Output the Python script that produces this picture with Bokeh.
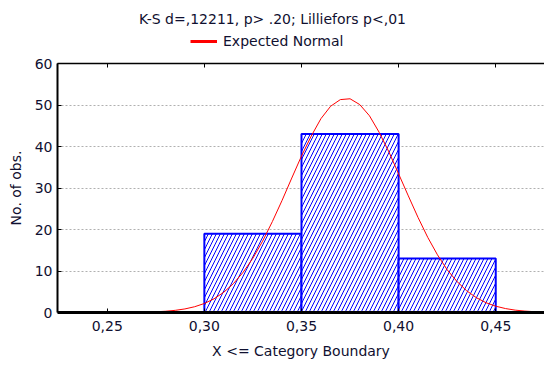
from bokeh.plotting import figure
from bokeh.layouts import column
from bokeh.models import FixedTicker, LinearAxis, Range1d, Legend, LegendItem, Label
from bokeh.embed import file_html
from bokeh.resources import INLINE

# Histogram bins (upper boundaries) and counts
bin_left = [0.30, 0.35, 0.40]
bin_right = [0.35, 0.40, 0.45]
counts = [19, 43, 13]

# Expected normal curve
curve_x = [0.275, 0.28, 0.285, 0.29, 0.295, 0.30, 0.305, 0.31, 0.315, 0.32, 0.325,
           0.33, 0.335, 0.34, 0.345, 0.35, 0.355, 0.36, 0.365, 0.37, 0.375, 0.38,
           0.385, 0.39, 0.395, 0.40, 0.405, 0.41, 0.415, 0.42, 0.425, 0.43, 0.435,
           0.44, 0.445, 0.45, 0.455, 0.46, 0.465, 0.47, 0.475]
curve_y = [0.17, 0.30, 0.52, 0.86, 1.39, 2.17, 3.30, 4.88, 6.98, 9.71, 13.1,
           17.2, 21.9, 27.0, 32.4, 37.7, 42.5, 46.7, 49.7, 51.3, 51.5, 50.1,
           47.4, 43.4, 38.7, 33.4, 28.1, 22.9, 18.1, 13.9, 10.3, 7.5, 5.25,
           3.58, 2.36, 1.52, 0.95, 0.57, 0.34, 0.19, 0.11]

x_ticks = [0.25, 0.30, 0.35, 0.40, 0.45]
x_tick_labels = ["0,25", "0,30", "0,35", "0,40", "0,45"]
y_ticks = [0, 10, 20, 30, 40, 50, 60]

title_text = "K-S d=,12211, p> .20; Lilliefors p<,01"
legend_text = "Expected Normal"

FONT = "DejaVu Sans"
TXT = "#101030"
HEAD_H = 52
LEFT = 57

# ---- header with title and legend (frame starts at x=LEFT) ----
head = figure(width=544, height=HEAD_H, output_backend="svg", toolbar_location=None,
              x_range=Range1d(0, 1), y_range=Range1d(1000, 1001),
              x_axis_type=None, y_axis_type=None,
              min_border_left=LEFT, min_border_right=0, min_border_top=0, min_border_bottom=0,
              background_fill_color="white", border_fill_color="white")
head.grid.visible = False
head.outline_line_color = None
# legend-only copy of the curve (kept out of the header's visible range)
leg_line = head.line(x=curve_x, y=curve_y, line_color="#ff0000", line_width=3)
head.add_layout(Label(x=272 - LEFT, y=HEAD_H - 18, x_units="screen", y_units="screen",
                      text=title_text, text_align="center", text_baseline="middle",
                      text_font=FONT, text_font_size="14px", text_color=TXT))
legend = Legend(items=[LegendItem(label=legend_text, renderers=[leg_line])],
                location=(190 - LEFT, 3), orientation="horizontal",
                label_text_font=FONT, label_text_font_size="14px",
                label_text_color=TXT, border_line_color=None,
                background_fill_alpha=0, glyph_width=27, glyph_height=14,
                label_height=14, padding=0, margin=0, label_standoff=6, spacing=0)
head.add_layout(legend, "center")

# ---- main chart ----
p = figure(width=544, height=368 - HEAD_H, output_backend="svg", toolbar_location=None,
           x_range=Range1d(0.2244, 0.4751), y_range=Range1d(0, 60),
           min_border_left=LEFT, min_border_right=0, min_border_top=63 - HEAD_H,
           min_border_bottom=56,
           background_fill_color="white", border_fill_color="white")
p.outline_line_color = None

p.quad(left=bin_left, right=bin_right, bottom=0, top=counts,
       fill_color="white", line_color="#0000ff", line_width=2,
       hatch_pattern="/", hatch_color="#0000ff", hatch_scale=8, hatch_weight=1)
r = p.line(curve_x, curve_y, line_color="#ff0000", line_width=1)

xa = p.xaxis[0]
xa.ticker = FixedTicker(ticks=x_ticks)
xa.major_label_overrides = {t: l for t, l in zip(x_ticks, x_tick_labels)}
xa.axis_label = "X <= Category Boundary"
xa.axis_line_width = 3
xa.major_tick_in = 4
xa.major_tick_out = 0
xa.minor_tick_line_color = None
xa.major_label_standoff = 8
xa.axis_label_standoff = 9

ya = p.yaxis[0]
ya.ticker = FixedTicker(ticks=y_ticks)
ya.axis_label = "No. of obs."
ya.axis_line_width = 2
ya.major_tick_in = 4
ya.major_tick_out = 0
ya.minor_tick_line_color = None
ya.major_label_standoff = 5
ya.axis_label_standoff = 8

for ax in (xa, ya):
    ax.major_label_text_font = FONT
    ax.major_label_text_font_size = "14px"
    ax.major_label_text_font_style = "normal"
    ax.major_label_text_color = TXT
    ax.axis_label_text_font = FONT
    ax.axis_label_text_font_size = "14px"
    ax.axis_label_text_font_style = "normal"
    ax.axis_label_text_color = TXT

top = LinearAxis(ticker=FixedTicker(ticks=x_ticks), major_tick_in=4, major_tick_out=0,
                 minor_tick_line_color=None, axis_line_width=1.5, axis_line_color="black",
                 major_label_text_alpha=0, major_label_text_font_size="4px",
                 major_label_standoff=0)
p.add_layout(top, "above")

p.xgrid.grid_line_color = None
p.ygrid.ticker = FixedTicker(ticks=[10, 20, 30, 40, 50])
p.ygrid.grid_line_color = "#b0b0b0"
p.ygrid.grid_line_dash = "2 2"
p.ygrid.grid_line_width = 1

layout = column(head, p, spacing=0)
open("out.html", "w").write(file_html(layout, INLINE))
